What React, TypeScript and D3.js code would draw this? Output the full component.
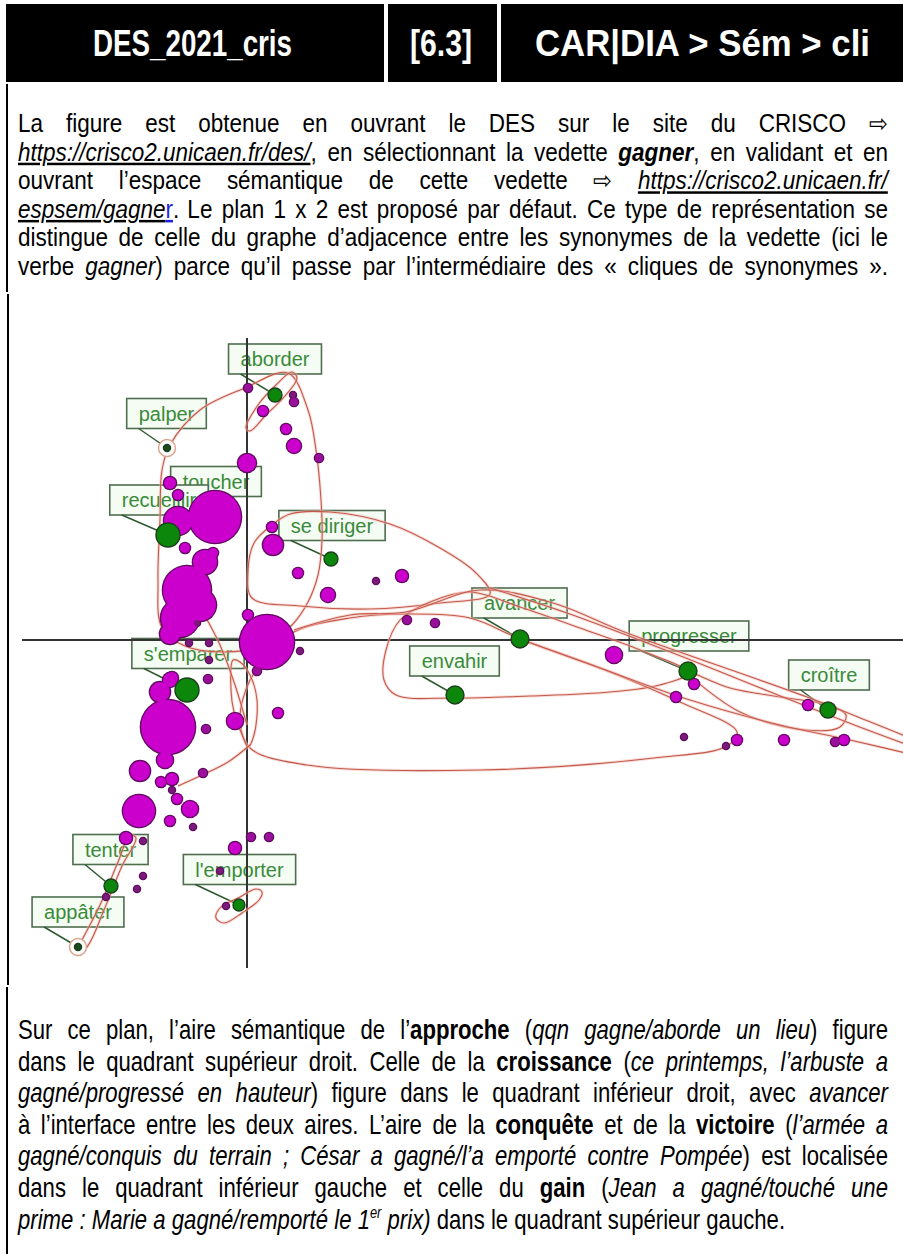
import React, { useEffect, useRef } from "react";
import * as d3 from "d3";

const W = 903;
const H = 1254;

const headerCells = ["DES_2021_cris", "[6.3]", "CAR|DIA > Sém > cli"];

type Seg = { t: string; i?: boolean; b?: boolean; u?: boolean; blue?: boolean; sup?: boolean };

const introLines: Seg[][] = [
  [{ t: "La figure est obtenue en ouvrant le DES sur le site du CRISCO ⇨" }],
  [
    { t: "https://crisco2.unicaen.fr/des/", i: true, u: true },
    { t: ", en sélectionnant la vedette " },
    { t: "gagner", b: true, i: true },
    { t: ", en validant et en" },
  ],
  [
    { t: "ouvrant l’espace sémantique de cette vedette ⇨ " },
    { t: "https://crisco2.unicaen.fr/", i: true, u: true },
  ],
  [
    { t: "espsem/gagne", i: true, u: true },
    { t: "r", u: true, blue: true },
    { t: ". Le plan 1 x 2 est proposé par défaut. Ce type de représentation se" },
  ],
  [{ t: "distingue de celle du graphe d’adjacence entre les synonymes de la vedette (ici le" }],
  [
    { t: "verbe " },
    { t: "gagner", i: true },
    { t: ") parce qu’il passe par l’intermédiaire des « cliques de synonymes »." },
  ],
];

const outroLines: Seg[][] = [
  [
    { t: "Sur ce plan, l’aire sémantique de l’" },
    { t: "approche", b: true },
    { t: " (" },
    { t: "qqn gagne/aborde un lieu", i: true },
    { t: ") figure" },
  ],
  [
    { t: "dans le quadrant supérieur droit. Celle de la " },
    { t: "croissance", b: true },
    { t: " (" },
    { t: "ce printemps, l’arbuste a", i: true },
  ],
  [
    { t: "gagné/progressé en hauteur", i: true },
    { t: ") figure dans le quadrant inférieur droit, avec " },
    { t: "avancer", i: true },
  ],
  [
    { t: "à l’interface entre les deux aires. L’aire de la " },
    { t: "conquête", b: true },
    { t: " et de la " },
    { t: "victoire", b: true },
    { t: " (" },
    { t: "l’armée a", i: true },
  ],
  [
    { t: "gagné/conquis du terrain ; César a gagné/l’a emporté contre Pompée", i: true },
    { t: ") est localisée" },
  ],
  [
    { t: "dans le quadrant inférieur gauche et celle du " },
    { t: "gain", b: true },
    { t: " (" },
    { t: "Jean a gagné/touché une", i: true },
  ],
  [
    { t: "prime : Marie a gagné/remporté le 1", i: true },
    { t: "er", i: true, sup: true },
    { t: " prix)", i: true },
    { t: " dans le quadrant supérieur gauche." },
  ],
];

// cliques: [axe 1, axe 2, poids]
const cliques: [number, number, number][] = [
  [0.01, 2.52, 2.2], [0.16, 2.29, 3.4], [0.46, 2.45, 1.2], [0.47, 2.38, 2.2],
  [0.39, 2.11, 3.4], [0.47, 1.94, 6.7], [0.72, 1.82, 2.2], [0.0, 1.77, 11.1],
  [-0.77, 1.57, 4.9], [-0.69, 1.45, 3.4], [-0.32, 1.23, 92.7], [-0.69, 1.19, 26.9],
  [0.25, 1.13, 3.4], [0.26, 0.95, 13.7], [-0.62, 0.92, 3.4], [-0.34, 0.87, 3.4],
  [-0.42, 0.78, 19.8], [-0.6, 0.5, 79.0], [-0.47, 0.35, 35.1], [-0.67, 0.22, 49.5],
  [-0.77, 0.06, 13.7], [-0.5, 0.17, 1.2], [-0.58, -0.03, 1.2], [-0.38, -0.03, 1.2],
  [-0.38, -0.2, 1.2], [0.01, 0.25, 3.4], [0.2, -0.02, 100], [0.53, -0.11, 1.2],
  [0.1, -0.31, 2.2], [0.51, 0.67, 3.4], [0.81, 0.45, 6.7], [1.29, 0.59, 1.2],
  [1.55, 0.64, 4.9], [1.6, 0.2, 2.2], [1.88, 0.17, 2.2], [-0.75, -0.38, 4.9],
  [-0.39, -0.39, 2.2], [0.31, -0.73, 3.4], [-0.12, -0.81, 8.8], [-0.87, -0.52, 13.7],
  [-0.77, -0.4, 6.7], [-0.79, -0.87, 100], [-0.82, -1.2, 8.8], [-1.07, -1.31, 13.7],
  [-0.41, -0.89, 2.2], [-0.44, -1.33, 2.2], [-0.86, -1.42, 3.4], [-0.75, -1.39, 4.9],
  [-0.75, -1.5, 1.2], [-0.7, -1.59, 3.4], [-0.57, -1.69, 8.8], [-1.08, -1.71, 35.1],
  [-0.77, -1.81, 3.4], [-0.54, -1.87, 1.2], [-1.21, -1.98, 4.9], [-1.04, -2.01, 1.2],
  [0.04, -1.97, 2.2], [0.22, -1.97, 2.2], [-0.12, -2.08, 4.9], [-1.04, -2.36, 1.2],
  [-1.1, -2.49, 1.2], [-1.41, -2.57, 1.2], [-0.21, -2.66, 1.2], [-0.27, -2.31, 1.2],
  [3.67, -0.15, 8.8], [4.47, -0.44, 3.4], [4.29, -0.57, 3.4], [5.61, -0.65, 3.4],
  [4.37, -0.97, 1.2], [4.79, -1.06, 1.2], [4.9, -1.0, 3.4], [5.37, -1.0, 3.4],
  [5.88, -1.02, 2.2], [5.97, -1.0, 3.4],
];

// synonymes: nom, point (axe 1, axe 2, poids ; 0 = caché), étiquette (axe 1, axe 2)
const synonymNames = ["aborder", "palper", "toucher", "recueillir", "se diriger", "s'emparer", "avancer", "envahir", "progresser", "croître", "tenter", "appâter", "l'emporter"];
const synonymPoints: [number, number, number][] = [
  [0.28, 2.45, 6.7], [-0.8, 1.92, 1.7], [-0.31, 1.22, 0], [-0.79, 1.05, 19.8],
  [0.84, 0.81, 6.7], [-0.6, -0.5, 19.8], [2.73, 0.01, 11.1], [2.08, -0.55, 11.1],
  [4.41, -0.31, 11.1], [5.81, -0.7, 8.8], [-1.36, -2.46, 6.7], [-1.69, -3.07, 1.7],
  [-0.08, -2.65, 4.9],
];
const synonymLabels: [number, number][] = [
  [0.28, 2.81], [-0.805, 2.265], [-0.31, 1.585], [-0.88, 1.4],
  [0.85, 1.145], [-0.59, -0.135], [2.725, 0.37], [2.075, -0.21],
  [4.42, 0.04], [5.82, -0.35], [-1.365, -2.095], [-1.69, -2.72],
  [-0.075, -2.295],
];
const ringed = ["palper", "appâter"];

// enveloppes de cliques (courbes fermées)
const envelopes: [number, number][][] = [
  [[-0.77, 1.95], [-0.47, 2.3], [-0.02, 2.52], [0.41, 2.67], [0.61, 2.3], [0.69, 1.9], [0.74, 1.4], [0.75, 1.0], [0.71, 0.65], [0.61, 0.38], [0.45, 0.15], [0.18, -0.05], [-0.22, -0.12], [-0.62, -0.06], [-0.85, 0.12], [-0.89, 0.6], [-0.87, 1.2], [-0.85, 1.7]],
  [[-0.01, 2.12], [0.11, 2.35], [0.29, 2.55], [0.45, 2.68], [0.5, 2.62], [0.38, 2.44], [0.19, 2.25], [0.03, 2.09]],
  [[0.25, 1.15], [0.07, 0.97], [0.01, 0.68], [0.05, 0.42], [0.53, 0.34], [1.23, 0.31], [1.93, 0.37], [2.43, 0.46], [2.28, 0.68], [1.93, 0.92], [1.43, 1.16], [0.83, 1.28], [0.43, 1.26]],
  [[2.23, 0.48], [1.83, 0.38], [1.53, 0.2], [1.39, -0.1], [1.37, -0.4], [1.49, -0.55], [2.07, -0.58], [2.83, -0.56], [3.63, -0.52], [4.13, -0.45], [4.41, -0.33], [3.93, -0.1], [3.33, 0.12], [2.73, 0.33]],
  [[4.41, -0.32], [4.93, -0.72], [5.58, -0.9], [5.93, -0.87], [5.99, -0.75], [5.81, -0.65], [5.33, -0.57], [4.83, -0.48]],
  [[0.47, 0.08], [1.03, 0.22], [1.59, 0.26], [2.23, 0.22], [2.73, 0.01], [3.53, -0.28], [4.33, -0.62], [4.9, -0.92], [4.8, -1.06], [4.07, -1.18], [2.33, -1.3], [0.6, -1.25], [0.03, -1.08], [-0.07, -0.8], [0.03, -0.4], [0.23, -0.15]],
  [[-1.17, -1.95], [-1.29, -2.22], [-1.47, -2.65], [-1.65, -3.0], [-1.71, -3.12], [-1.61, -3.08], [-1.43, -2.7], [-1.25, -2.26], [-1.11, -1.98]],
  [[-0.31, -2.78], [-0.23, -2.83], [-0.05, -2.73], [0.12, -2.6], [0.15, -2.52], [0.09, -2.49], [-0.07, -2.57], [-0.27, -2.68]],
  [[-0.14, -0.2], [-0.16, -0.5], [-0.13, -0.72], [-0.04, -0.97], [0.01, -1.07], [0.07, -0.95], [0.1, -0.6], [0.03, -0.35], [-0.07, -0.22]],
];

// tracés ouverts
const strands: [number, number][][] = [
  [[0.47, 0.1], [1.03, 0.25], [1.59, 0.28], [2.33, 0.5], [3.06, 0.37], [3.8, 0.07], [5.6, -0.57], [6.26, -0.83], [6.8, -1.05]],
  [[2.43, 0.52], [3.2, 0.27], [4.26, -0.13], [5.26, -0.53], [6.1, -0.86], [6.8, -1.12]],
  [[2.73, 0.01], [3.53, -0.28], [4.43, -0.6], [5.33, -0.85], [6.03, -1.0], [6.8, -1.18]],
  [[0.03, -1.05], [-0.19, -1.22], [-0.47, -1.36], [-0.69, -1.46]],
  [[-0.47, 0.33], [-0.27, -0.05], [-0.12, -0.45], [0.0, -0.85]],
];

const TEXT_L = 18;
const TEXT_R = 888;
const BODY_FONT = "'Liberation Sans', Arial, sans-serif";
const LABEL_FONT = "'Liberation Sans', Arial, sans-serif";

function toWords(segs: Seg[]): Seg[][] {
  const words: Seg[][] = [[]];
  segs.forEach((s) => {
    s.t.split(" ").forEach((p, k) => {
      if (k > 0) words.push([]);
      if (p) words[words.length - 1].push({ ...s, t: p });
    });
  });
  return words.filter((w) => w.length);
}

// narrow: horizontal squeeze so that Liberation Sans reads like Arial Narrow
function drawParagraph(g: any, lines: Seg[][], top: number, step: number, size: number, narrow: number, justifyLast: boolean) {
  const pg = g.append("g").attr("font-size", size);
  const probe = pg.append("text").text("a a");
  const probe2 = pg.append("text").text("aa");
  const spaceW = (probe.node().getComputedTextLength() - probe2.node().getComputedTextLength()) * narrow;
  probe.remove();
  probe2.remove();

  lines.forEach((segs, li) => {
    const y = top + li * step;
    const justify = li < lines.length - 1 || justifyLast;
    const nodes = toWords(segs).map((w) => {
      const t = pg.append("text");
      w.forEach((s) => {
        const ts = t.append("tspan").text(s.t);
        if (s.i) ts.attr("font-style", "italic");
        if (s.b) ts.attr("font-weight", "bold");
        if (s.u) ts.style("text-decoration", "underline");
        if (s.blue) ts.attr("fill", "#1f1fe6");
        if (s.sup) ts.attr("font-size", size * 0.58).attr("dy", -size * 0.38);
      });
      return t;
    });
    const widths = nodes.map((t: any) => t.node().getComputedTextLength() * narrow);
    const total = d3.sum(widths);
    const gap = justify && nodes.length > 1 ? (TEXT_R - TEXT_L - total) / (nodes.length - 1) : spaceW;
    let x = TEXT_L;
    nodes.forEach((t: any, k: number) => {
      t.attr("transform", `translate(${x},${y}) scale(${narrow},1)`);
      x += widths[k] + gap;
    });
  });
}

export default function App() {
  const ref = useRef<SVGSVGElement>(null);

  useEffect(() => {
    const svg = d3.select(ref.current);
    svg.selectAll("*").remove();

    svg.append("rect").attr("width", W).attr("height", H).attr("fill", "#fff");

    // header
    const cells = [[6, 384], [388, 497], [501, 903]];
    const textSpans = [[93, 292], [410, 472], [535, 870]];
    const head = svg.append("g");
    cells.forEach(([a, b], k) => {
      head.append("rect").attr("x", a).attr("y", 4).attr("width", b - a).attr("height", 78).attr("fill", "#000");
      const [ta, tb] = textSpans[k];
      head.append("text")
        .attr("x", ta).attr("y", 56)
        .attr("fill", "#fff")
        .attr("font-family", BODY_FONT)
        .attr("font-weight", "bold")
        .attr("font-size", 37)
        .attr("textLength", tb - ta)
        .attr("lengthAdjust", "spacingAndGlyphs")
        .text(headerCells[k]);
    });

    // left rule with the small breaks between table rows
    const rule = svg.append("g").attr("stroke", "#000").attr("stroke-width", 2);
    rule.append("line").attr("x1", 7).attr("x2", 7).attr("y1", 84).attr("y2", 292);
    rule.append("line").attr("x1", 8).attr("x2", 8).attr("y1", 294).attr("y2", 985);
    rule.append("line").attr("x1", 7).attr("x2", 7).attr("y1", 987).attr("y2", H);

    const body = svg.append("g").attr("font-family", BODY_FONT).attr("fill", "#000");
    drawParagraph(body, introLines, 132, 28.6, 25, 0.9, true);
    drawParagraph(body, outroLines, 1039, 31.6, 27, 0.82, false);

    // chart
    const x = d3.scaleLinear().domain([-2.25, 6.56]).range([22, 903]);
    const y = d3.scaleLinear().domain([3.02, -3.28]).range([338, 968]);
    const r = d3.scaleSqrt().domain([0, 100]).range([0, 27]);

    svg.append("clipPath").attr("id", "plotclip")
      .append("rect").attr("x", 20).attr("y", 296).attr("width", W - 20).attr("height", 682);
    const plot = svg.append("g").attr("clip-path", "url(#plotclip)");

    // labels
    const labels = plot.append("g");
    synonymNames.forEach((name, k) => {
      const [lu, lv] = synonymLabels[k];
      const [pu, pv, w] = synonymPoints[k];
      const cx = x(lu);
      const cy = y(lv);
      const box = labels.append("rect");
      const t = labels.append("text")
        .attr("x", cx).attr("y", cy + 7)
        .attr("text-anchor", "middle")
        .attr("font-family", LABEL_FONT)
        .attr("font-size", 20)
        .attr("fill", "#3a8a3a")
        .text(name);
      const tw = (t.node() as SVGTextElement).getComputedTextLength();
      const bw = tw + 24;
      const bh = 30;
      box.attr("x", cx - bw / 2).attr("y", cy - bh / 2).attr("width", bw).attr("height", bh)
        .attr("fill", "#f4fcf4").attr("stroke", "#4f6d4f").attr("stroke-width", 1.6);
      if (w > 0) {
        labels.append("line")
          .attr("x1", cx - bw / 2 + 12).attr("y1", cy + bh / 2)
          .attr("x2", x(pu)).attr("y2", y(pv))
          .attr("stroke", "#2f5a2f").attr("stroke-width", 1.5);
      }
    });

    // axes
    plot.append("line").attr("x1", x(-2.25)).attr("x2", x(6.56)).attr("y1", y(0)).attr("y2", y(0))
      .attr("stroke", "#333").attr("stroke-width", 2);
    plot.append("line").attr("x1", x(0)).attr("x2", x(0)).attr("y1", y(3.02)).attr("y2", y(-3.28))
      .attr("stroke", "#333").attr("stroke-width", 2);

    // envelopes
    const closedLine = d3.line<[number, number]>().x((d) => x(d[0])).y((d) => y(d[1])).curve(d3.curveCatmullRomClosed.alpha(0.5));
    const openLine = d3.line<[number, number]>().x((d) => x(d[0])).y((d) => y(d[1])).curve(d3.curveCatmullRom.alpha(0.5));
    const curves = plot.append("g").attr("fill", "none");
    const paths = [...envelopes.map((e) => closedLine(e)), ...strands.map((s) => openLine(s))];
    paths.forEach((d) => {
      curves.append("path").attr("d", d).attr("stroke", "#f4b8b0").attr("stroke-width", 3).attr("opacity", 0.5);
      curves.append("path").attr("d", d).attr("stroke", "#c25a4c").attr("stroke-width", 1.1);
    });

    // rings
    synonymNames.forEach((name, k) => {
      if (!ringed.includes(name)) return;
      const [pu, pv] = synonymPoints[k];
      curves.append("circle").attr("cx", x(pu)).attr("cy", y(pv)).attr("r", 8.5)
        .attr("stroke", "#d9a58e").attr("stroke-width", 1.5).attr("fill", "#fff");
    });

    // cliques
    const sorted = [...cliques].sort((a, b) => b[2] - a[2]);
    const cg = plot.append("g");
    cg.selectAll("circle.o").data(sorted).join("circle").attr("class", "o")
      .attr("cx", (d) => x(d[0])).attr("cy", (d) => y(d[1])).attr("r", (d) => r(d[2]) + 1.3)
      .attr("fill", "#5e0c5e");
    cg.selectAll("circle.f").data(sorted).join("circle").attr("class", "f")
      .attr("cx", (d) => x(d[0])).attr("cy", (d) => y(d[1])).attr("r", (d) => r(d[2]))
      .attr("fill", (d) => (d[2] < 2 ? "#7c1a7c" : d[2] < 3 ? "#9a109a" : "#cc00cc"));

    // synonym points
    const sg = plot.append("g");
    synonymNames.forEach((name, k) => {
      const [pu, pv, w] = synonymPoints[k];
      if (w <= 0) return;
      const small = ringed.includes(name);
      sg.append("circle").attr("cx", x(pu)).attr("cy", y(pv)).attr("r", r(w))
        .attr("fill", small ? "#1c4a1c" : "#0c870c")
        .attr("stroke", "#1d3f1d").attr("stroke-width", 1.4);
    });
  }, []);

  return (
    <div>
      <style>{"body{margin:0}"}</style>
      <svg ref={ref} width={W} height={H} style={{ display: "block" }} />
    </div>
  );
}
